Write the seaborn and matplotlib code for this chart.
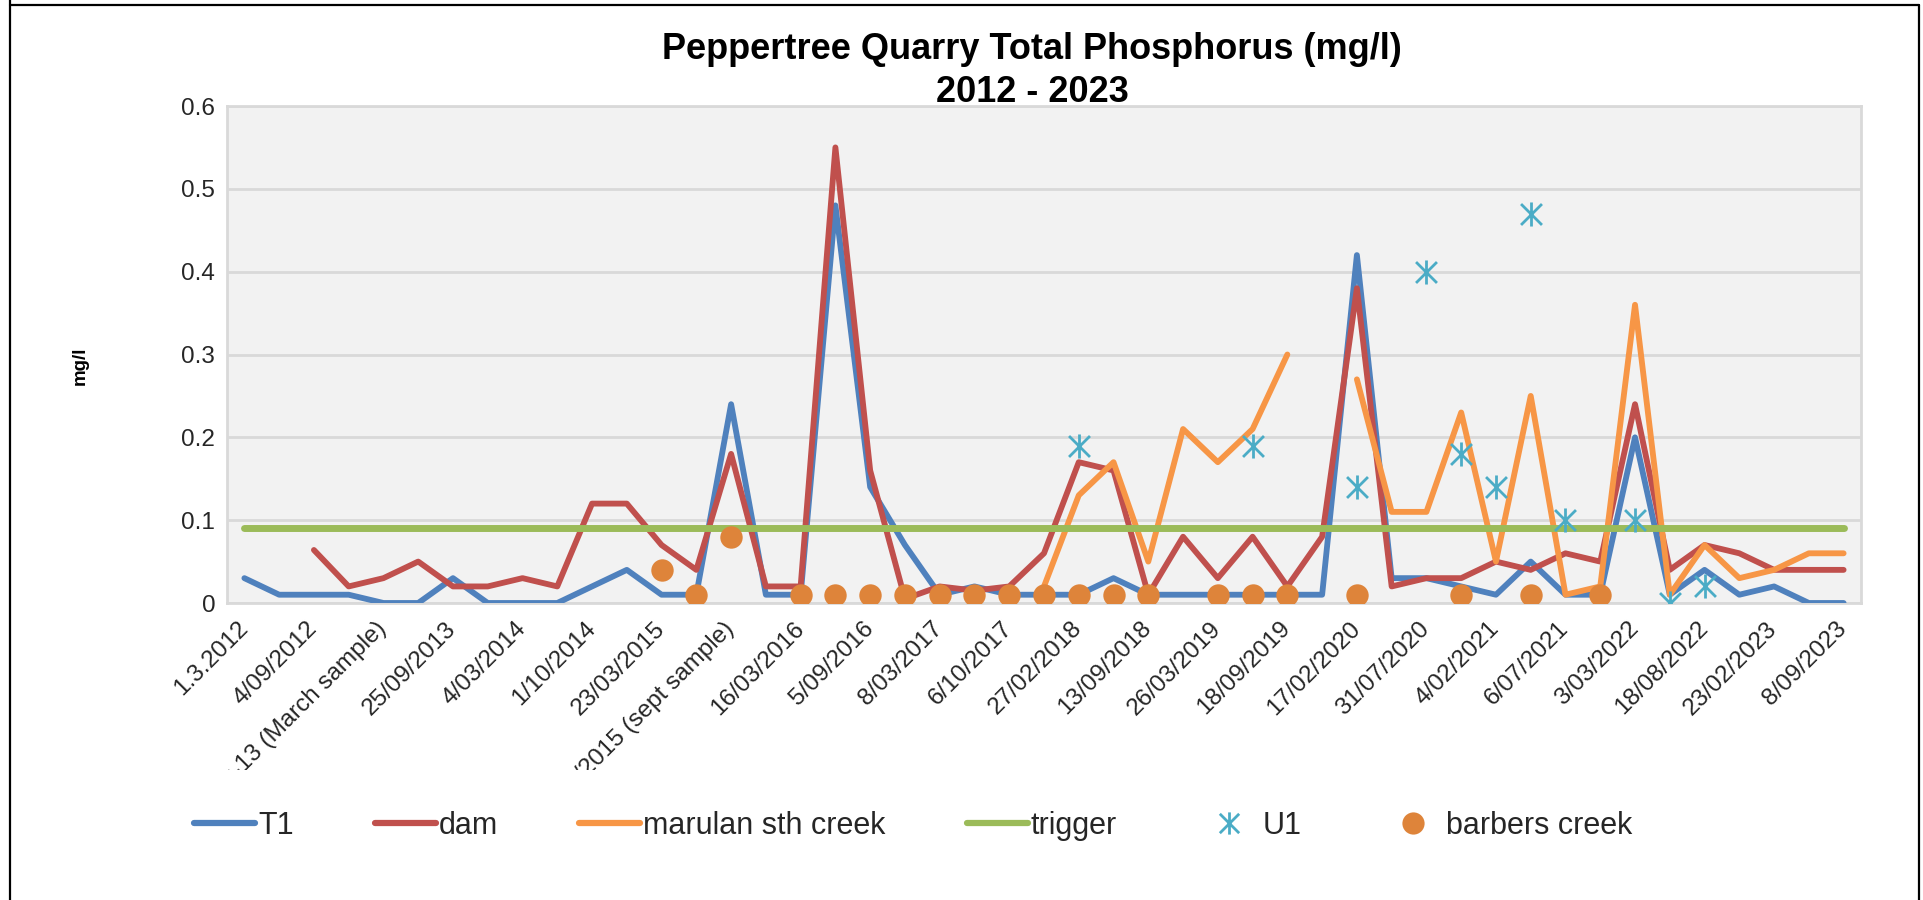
import matplotlib
matplotlib.use("Agg")
import matplotlib.pyplot as plt
import seaborn as sns
import numpy as np
import pandas as pd
from matplotlib.path import Path
from matplotlib.lines import Line2D
from matplotlib.patches import Rectangle

# x axis labels (every second sample date is labelled)
tick_labels = ["1.3.2012", "4/09/2012", "Mar-13 (March sample)", "25/09/2013",
               "4/03/2014", "1/10/2014", "23/03/2015", "14/09/2015 (sept sample)",
               "16/03/2016", "5/09/2016", "8/03/2017", "6/10/2017",
               "27/02/2018", "13/09/2018", "26/03/2019", "18/09/2019",
               "17/02/2020", "31/07/2020", "4/02/2021", "6/07/2021",
               "3/03/2022", "18/08/2022", "23/02/2023", "8/09/2023"]

N = None
t1 = [0.03, 0.01, 0.01, 0.01, 0, 0, 0.03, 0, 0, 0,
      0.02, 0.04, 0.01, 0.01, 0.24, 0.01, 0.01, 0.48, 0.14, 0.07,
      0.01, 0.02, 0.01, 0.01, 0.01, 0.03, 0.01, 0.01, 0.01, 0.01,
      0.01, 0.01, 0.42, 0.03, 0.03, 0.02, 0.01, 0.05, 0.01, 0.01,
      0.20, 0.01, 0.04, 0.01, 0.02, 0, 0]
dam = [N, N, 0.064, 0.02, 0.03, 0.05, 0.02, 0.02, 0.03, 0.02,
       0.12, 0.12, 0.07, 0.04, 0.18, 0.02, 0.02, 0.55, 0.16, 0.005,
       0.02, 0.015, 0.02, 0.06, 0.17, 0.16, 0.01, 0.08, 0.03, 0.08,
       0.02, 0.08, 0.38, 0.02, 0.03, 0.03, 0.05, 0.04, 0.06, 0.05,
       0.24, 0.04, 0.07, 0.06, 0.04, 0.04, 0.04]
marulan = [N, N, N, N, N, N, N, N, N, N,
           N, N, N, N, N, N, N, N, N, N,
           N, N, N, 0.02, 0.13, 0.17, 0.05, 0.21, 0.17, 0.21,
           0.30, N, 0.27, 0.11, 0.11, 0.23, 0.05, 0.25, 0.01, 0.02,
           0.36, 0.01, 0.07, 0.03, 0.04, 0.06, 0.06]
trigger = [0.09] * 47
u1 = [N, N, N, N, N, N, N, N, N, N,
      N, N, N, N, N, N, N, N, N, N,
      N, N, N, N, 0.19, N, N, N, N, 0.19,
      N, N, 0.14, N, 0.40, 0.18, 0.14, 0.47, 0.10, N,
      0.10, 0.0, 0.02, N, N, N, N]
barbers = [N, N, N, N, N, N, N, N, N, N,
           N, N, 0.04, 0.01, 0.08, N, 0.01, 0.01, 0.01, 0.01,
           0.01, 0.01, 0.01, 0.01, 0.01, 0.01, 0.01, N, 0.01, 0.01,
           0.01, N, 0.01, N, N, 0.01, N, 0.01, N, 0.01,
           N, N, N, N, N, N, N]

BLUE = "#4F81BD"
RED = "#C0504D"
ORANGE = "#F79646"
GREEN = "#9BBB59"
TEAL = "#4BACC6"
DOT = "#DE843A"
GRID = "#D9D9D9"
TXT = "#262626"

n = len(t1)
x = np.arange(n)

sns.set_style("white")
plt.rcParams["font.family"] = ["Liberation Sans", "DejaVu Sans"]

W, H = 1924, 900
fig = plt.figure(figsize=(W / 100, H / 100), dpi=100)
ax = fig.add_axes([227 / W, 1 - 603 / H, (1861 - 227) / W, (603 - 106) / H])
ax.set_facecolor("#F2F2F2")


def draw_line(vals, color, lw, z):
    s = pd.Series(vals, dtype=float)
    df = pd.DataFrame({"x": x, "y": s, "seg": s.isna().cumsum()}).dropna()
    for _, part in df.groupby("seg"):
        sns.lineplot(data=part, x="x", y="y", ax=ax, color=color, linewidth=lw,
                     zorder=z, solid_capstyle="round", solid_joinstyle="round")


draw_line(t1, BLUE, 4.2, 3)
draw_line(dam, RED, 4.2, 4)
draw_line(marulan, ORANGE, 4.2, 5)
draw_line(trigger, GREEN, 5.0, 6)

star = Path([(-1, -1), (1, 1), (-1, 1), (1, -1), (0, -1.15), (0, 1.15)],
            [Path.MOVETO, Path.LINETO] * 3)

u = pd.DataFrame({"x": x, "y": pd.Series(u1, dtype=float)}).dropna()
sns.scatterplot(data=u, x="x", y="y", ax=ax, marker=star, s=300, color=TEAL,
                edgecolor=TEAL, linewidth=2.0, zorder=7)
b = pd.DataFrame({"x": x, "y": pd.Series(barbers, dtype=float)}).dropna()
sns.scatterplot(data=b, x="x", y="y", ax=ax, marker="o", s=260, color=DOT,
                linewidth=0, zorder=8)

ax.set_xlim(-0.5, n - 0.5)
ax.set_ylim(0, 0.6)
ax.set_xlabel("")
ax.set_ylabel("")

ax.set_yticks(np.arange(0, 0.61, 0.1))
ax.set_yticklabels(["0", "0.1", "0.2", "0.3", "0.4", "0.5", "0.6"])
ax.tick_params(axis="y", length=7, width=1.5, color=GRID, labelsize=17.5,
               labelcolor=TXT, pad=1.5)
ax.grid(axis="y", color=GRID, linewidth=2)
ax.set_axisbelow(True)

ax.set_xticks(range(0, n, 2))
ax.set_xticklabels(tick_labels, rotation=45, ha="right", va="center",
                   rotation_mode="anchor")
ax.set_xticks(np.arange(-0.5, n, 1), minor=True)
ax.tick_params(axis="x", which="major", length=0, labelsize=17.5,
               labelcolor=TXT, pad=16)
ax.tick_params(axis="x", which="minor", length=7, width=1.5, color=GRID)
for sp in ax.spines.values():
    sp.set_color(GRID)
    sp.set_linewidth(2)

# long labels are cut off below the chart area, as in the original
clip = Rectangle((0, 1 - 770 / H), 1, 1, transform=fig.transFigure)
for lab in ax.get_xticklabels():
    lab.set_clip_on(True)
    lab.set_clip_path(clip)

fig.text(1032 / W, 1 - 71 / H, "Peppertree Quarry Total Phosphorus (mg/l)\n2012 - 2023",
         ha="center", va="center", fontsize=26, fontweight="bold",
         linespacing=1.3, color="black")
fig.text(80 / W, 1 - 366 / H, "mg/l", rotation=90, ha="center", va="center",
         fontsize=13.5, fontweight="bold", color="black")

handles = [
    Line2D([], [], color=BLUE, lw=4.5, solid_capstyle="round"),
    Line2D([], [], color=RED, lw=4.5, solid_capstyle="round"),
    Line2D([], [], color=ORANGE, lw=4.5, solid_capstyle="round"),
    Line2D([], [], color=GREEN, lw=4.5, solid_capstyle="round"),
    Line2D([], [], ls="none", marker=star, ms=16, color=TEAL, mew=2.0),
    Line2D([], [], ls="none", marker="o", ms=16, color=DOT, mew=0),
]
labels = ["T1", "dam", "marulan sth creek", "trigger", "U1", "barbers creek"]
fig.legend(handles, labels, loc="center left", bbox_to_anchor=(194 / W, 1 - 826 / H),
           ncol=6, frameon=False, fontsize=22, handlelength=2.0,
           handletextpad=0.1, columnspacing=2.65, borderaxespad=0, borderpad=0)

# outer chart frame
for xs, ys in [([9.5, 9.5], [0, 900]), ([9.5, 1919.5], [4.5, 4.5]),
               ([1919.5, 1919.5], [4.5, 900])]:
    fig.add_artist(Line2D([v / W for v in xs], [1 - v / H for v in ys],
                          transform=fig.transFigure, color="black", lw=1.6))

fig.savefig("out.png", dpi=100)
